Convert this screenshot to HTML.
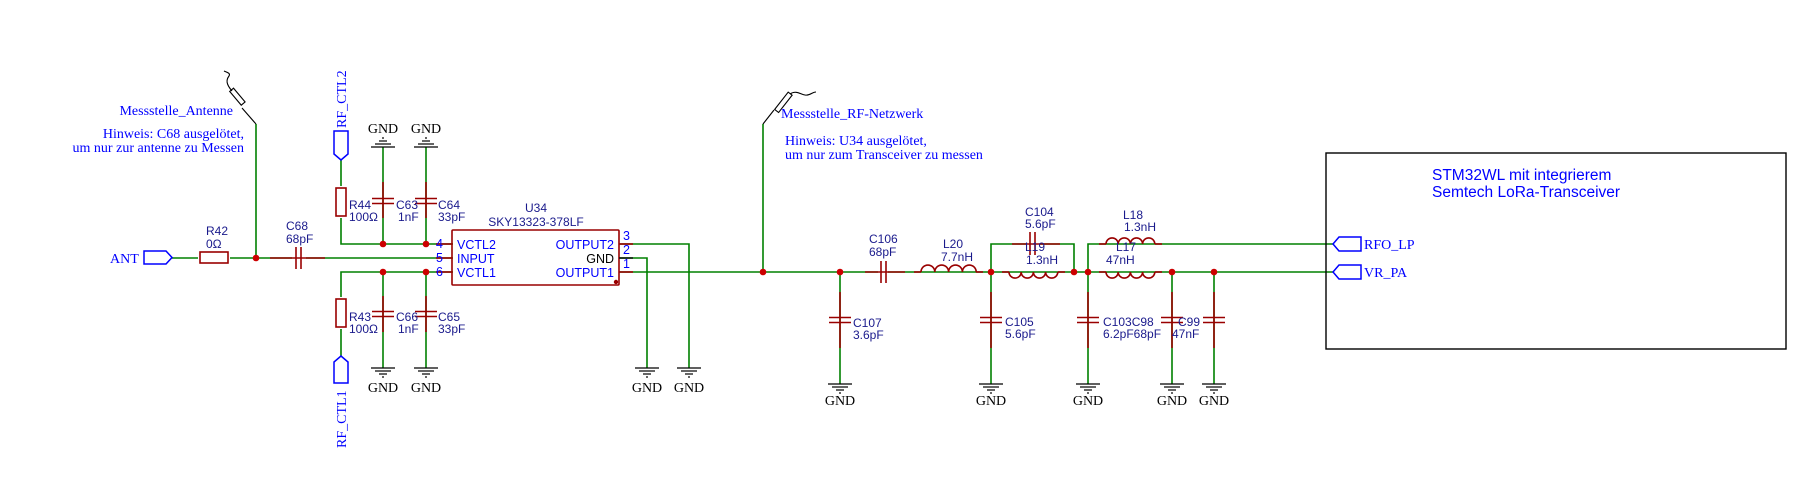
<!DOCTYPE html>
<html><head><meta charset="utf-8"><style>
html,body{margin:0;padding:0;background:#fff;}
svg{display:block;}
.s{font-family:"Liberation Sans",sans-serif;font-size:12px;fill:#1a1a8c;}
.f{font-family:"Liberation Serif",serif;font-size:14px;fill:#0000ff;}
.p{font-family:"Liberation Sans",sans-serif;font-size:12.5px;fill:#0000ff;}
</style></head><body>
<svg width="1812" height="492" viewBox="0 0 1812 492" xmlns="http://www.w3.org/2000/svg">
<defs>
<g id="gd" stroke="#000" stroke-width="1.2"><line x1="-12" y1="0" x2="12" y2="0"/><line x1="-8" y1="3" x2="8" y2="3"/><line x1="-4" y1="6" x2="4" y2="6"/><line x1="-1" y1="9" x2="1" y2="9"/></g>
<g id="gu" stroke="#000" stroke-width="1.2"><line x1="-12" y1="0" x2="12" y2="0"/><line x1="-8" y1="-3" x2="8" y2="-3"/><line x1="-4" y1="-6" x2="4" y2="-6"/><line x1="-1" y1="-9" x2="1" y2="-9"/></g>
<g id="cv" stroke="#990000" stroke-width="1.6"><line x1="-11" y1="-2.5" x2="11" y2="-2.5"/><line x1="-11" y1="2.5" x2="11" y2="2.5"/></g>
</defs>
<g fill="none" stroke="#008000" stroke-width="1.6">
<line x1="172" y1="258" x2="453" y2="258"/>
<line x1="256" y1="258" x2="256" y2="124"/>
<polyline points="341,160 341,244 453,244"/>
<line x1="383" y1="147" x2="383" y2="244"/>
<line x1="426" y1="147" x2="426" y2="244"/>
<polyline points="341,356 341,272 453,272"/>
<line x1="383" y1="272" x2="383" y2="368"/>
<line x1="426" y1="272" x2="426" y2="368"/>
<polyline points="620,244 689,244 689,368"/>
<polyline points="620,258 647,258 647,368"/>
<line x1="620" y1="272" x2="1333" y2="272"/>
<line x1="763" y1="272" x2="763" y2="124"/>
<line x1="840" y1="272" x2="840" y2="384"/>
<polyline points="991,272 991,244 1074,244 1074,272"/>
<polyline points="1088,272 1088,244 1333,244"/>
<line x1="991" y1="272" x2="991" y2="384"/>
<line x1="1088" y1="272" x2="1088" y2="384"/>
<line x1="1172" y1="272" x2="1172" y2="384"/>
<line x1="1214" y1="272" x2="1214" y2="384"/>
</g>
<g fill="#fff" stroke="none">
<rect x="198" y="250" width="32" height="16"/>
<rect x="292" y="246" width="14" height="24"/>
<rect x="335" y="186" width="12" height="32"/><rect x="335" y="297" width="12" height="32"/>
<rect x="878" y="262" width="10" height="20"/>
<rect x="921" y="262" width="55" height="9"/><rect x="1009" y="273" width="49" height="9"/>
<rect x="1106" y="273" width="49" height="9"/><rect x="1106" y="235" width="49" height="8"/>
<rect x="1026" y="234" width="14" height="20"/>
</g>
<g stroke="#990000" stroke-width="1.6" fill="none">
<line x1="270" y1="258" x2="325" y2="258"/>
<line x1="383" y1="182" x2="383" y2="218"/><line x1="426" y1="182" x2="426" y2="218"/>
<line x1="383" y1="296" x2="383" y2="332"/><line x1="426" y1="296" x2="426" y2="332"/>
<line x1="840" y1="292" x2="840" y2="348"/><line x1="991" y1="292" x2="991" y2="348"/>
<line x1="1088" y1="292" x2="1088" y2="348"/><line x1="1172" y1="292" x2="1172" y2="348"/>
<line x1="1214" y1="292" x2="1214" y2="348"/>
<line x1="865" y1="272" x2="905" y2="272"/>
<line x1="1012" y1="244" x2="1060" y2="244"/>
<line x1="914" y1="272" x2="921" y2="272"/><line x1="976" y1="272" x2="983" y2="272"/>
<line x1="1002" y1="272" x2="1009" y2="272"/><line x1="1058" y1="272" x2="1065" y2="272"/>
<line x1="1099" y1="272" x2="1106" y2="272"/><line x1="1155" y1="272" x2="1162" y2="272"/>
<line x1="1099" y1="244" x2="1106" y2="244"/><line x1="1155" y1="244" x2="1162" y2="244"/>
<rect x="200" y="252" width="28" height="11"/>
<rect x="336" y="188" width="10" height="28"/>
<rect x="336" y="299" width="10" height="28"/>
<line x1="296" y1="247" x2="296" y2="269"/><line x1="301" y1="247" x2="301" y2="269"/>
<line x1="881" y1="261" x2="881" y2="283"/><line x1="886" y1="261" x2="886" y2="283"/>
<line x1="1030" y1="232" x2="1030" y2="255"/><line x1="1035" y1="232" x2="1035" y2="255"/>
<path d="M921,272 a6.9,6.9 0 0 1 13.8,0 a6.9,6.9 0 0 1 13.8,0 a6.9,6.9 0 0 1 13.8,0 a6.9,6.9 0 0 1 13.8,0"/>
<path d="M1009,272 a6.1,6.1 0 0 0 12.2,0 a6.1,6.1 0 0 0 12.2,0 a6.1,6.1 0 0 0 12.2,0 a6.1,6.1 0 0 0 12.2,0"/>
<path d="M1106,244 a6.1,6.1 0 0 1 12.2,0 a6.1,6.1 0 0 1 12.2,0 a6.1,6.1 0 0 1 12.2,0 a6.1,6.1 0 0 1 12.2,0"/>
<path d="M1106,272 a6.1,6.1 0 0 0 12.2,0 a6.1,6.1 0 0 0 12.2,0 a6.1,6.1 0 0 0 12.2,0 a6.1,6.1 0 0 0 12.2,0"/>
<rect x="452" y="230" width="167" height="55" rx="1"/>
<line x1="436" y1="244" x2="452" y2="244"/><line x1="436" y1="258" x2="452" y2="258"/><line x1="436" y1="272" x2="452" y2="272"/>
<line x1="619" y1="244" x2="633" y2="244"/><line x1="619" y1="272" x2="633" y2="272"/>
</g>
<line x1="619" y1="258" x2="633" y2="258" stroke="#000" stroke-width="1.4"/>
<circle cx="616" cy="282" r="2.2" fill="#990000"/>
<use href="#cv" x="383" y="201"/><use href="#cv" x="426" y="201"/>
<use href="#cv" x="383" y="314"/><use href="#cv" x="426" y="314"/>
<use href="#cv" x="840" y="320"/><use href="#cv" x="991" y="320"/>
<use href="#cv" x="1088" y="320"/><use href="#cv" x="1172" y="320"/><use href="#cv" x="1214" y="320"/>
<use href="#gu" x="383" y="147"/><use href="#gu" x="426" y="147"/>
<use href="#gd" x="383" y="368"/><use href="#gd" x="426" y="368"/>
<use href="#gd" x="647" y="368"/><use href="#gd" x="689" y="368"/>
<use href="#gd" x="840" y="384"/><use href="#gd" x="991" y="384"/><use href="#gd" x="1088" y="384"/>
<use href="#gd" x="1172" y="384"/><use href="#gd" x="1214" y="384"/>
<g fill="#cc0000">
<circle cx="256" cy="258" r="3.3"/><circle cx="383" cy="244" r="3.3"/><circle cx="426" cy="244" r="3.3"/>
<circle cx="383" cy="272" r="3.3"/><circle cx="426" cy="272" r="3.3"/>
<circle cx="763" cy="272" r="3.3"/><circle cx="840" cy="272" r="3.3"/>
<circle cx="991" cy="272" r="3.3"/><circle cx="1074" cy="272" r="3.3"/><circle cx="1088" cy="272" r="3.3"/>
<circle cx="1172" cy="272" r="3.3"/><circle cx="1214" cy="272" r="3.3"/>
</g>
<g stroke="#000" stroke-width="1.1" fill="none">
<line x1="256" y1="124" x2="242" y2="108"/>
<rect x="228" y="94" width="18" height="5" transform="rotate(50 237 97)"/>
<path d="M232,91 C226,84 226,80 229,76 C231,73 226,72 224,71"/>
<line x1="763" y1="124" x2="774" y2="110"/>
<rect x="772" y="100" width="22" height="5" transform="rotate(-52 783 102)"/>
<path d="M790,94 C796,90 800,94 805,95 C810,96 812,92 816,92"/>
</g>
<g fill="#fff" stroke="#0000ff" stroke-width="1.5">
<path d="M144,251 L166,251 L172,257.5 L166,264 L144,264 Z"/>
<path d="M334,131 L348,131 L348,154 L341,160 L334,154 Z"/>
<path d="M334,383 L348,383 L348,362 L341,356 L334,362 Z"/>
<path d="M1361,237 L1339,237 L1333,244 L1339,251 L1361,251 Z"/>
<path d="M1361,265 L1339,265 L1333,272 L1339,279 L1361,279 Z"/>
</g>
<rect x="1326" y="153" width="460" height="196" fill="none" stroke="#000" stroke-width="1.4"/>
<text class="f" x="110" y="263">ANT</text>
<text class="f" x="1364" y="249">RFO_LP</text>
<text class="f" x="1364" y="277">VR_PA</text>
<text class="f" x="346" y="128" transform="rotate(-90 346 128)">RF_CTL2</text>
<text class="f" x="346" y="448" transform="rotate(-90 346 448)">RF_CTL1</text>
<text class="f" x="233" y="115" text-anchor="end">Messstelle_Antenne</text>
<text class="f" x="244" y="138" text-anchor="end">Hinweis: C68 ausgelötet,</text>
<text class="f" x="244" y="152" text-anchor="end">um nur zur antenne zu Messen</text>
<text class="f" x="781" y="118">Messstelle_RF-Netzwerk</text>
<text class="f" x="785" y="145">Hinweis: U34 ausgelötet,</text>
<text class="f" x="785" y="159">um nur zum Transceiver zu messen</text>
<g class="f" style="fill:#000" text-anchor="middle">
<text x="383" y="133">GND</text><text x="426" y="133">GND</text>
<text x="383" y="392">GND</text><text x="426" y="392">GND</text>
<text x="647" y="392">GND</text><text x="689" y="392">GND</text>
<text x="840" y="405">GND</text><text x="991" y="405">GND</text><text x="1088" y="405">GND</text>
<text x="1172" y="405">GND</text><text x="1214" y="405">GND</text>
</g>
<g class="s">
<text x="206" y="235">R42</text><text x="206" y="248">0Ω</text>
<text x="286" y="230">C68</text><text x="286" y="243">68pF</text>
<text x="349" y="209">R44</text><text x="349" y="221">100Ω</text>
<text x="396" y="209">C63</text><text x="398" y="221">1nF</text>
<text x="438" y="209">C64</text><text x="438" y="221">33pF</text>
<text x="349" y="321">R43</text><text x="349" y="333">100Ω</text>
<text x="396" y="321">C66</text><text x="398" y="333">1nF</text>
<text x="438" y="321">C65</text><text x="438" y="333">33pF</text>
<text x="536" y="212" text-anchor="middle">U34</text>
<text x="536" y="226" text-anchor="middle">SKY13323-378LF</text>
<text x="869" y="243">C106</text><text x="869" y="256">68pF</text>
<text x="853" y="327">C107</text><text x="853" y="339">3.6pF</text>
<text x="943" y="248">L20</text><text x="941" y="261">7.7nH</text>
<text x="1025" y="216">C104</text><text x="1025" y="228">5.6pF</text>
<text x="1025" y="251">L19</text><text x="1026" y="264">1.3nH</text>
<text x="1123" y="219">L18</text><text x="1124" y="231">1.3nH</text>
<text x="1116" y="251">L17</text><text x="1106" y="264">47nH</text>
<text x="1005" y="326">C105</text><text x="1005" y="338">5.6pF</text>
<text x="1103" y="326">C103C98</text><text x="1103" y="338">6.2pF68pF</text>
<text x="1178" y="326">C99</text><text x="1172" y="338">47nF</text>
</g>
<g class="p">
<text x="443" y="248" text-anchor="end">4</text><text x="443" y="262" text-anchor="end">5</text><text x="443" y="276" text-anchor="end">6</text>
<text x="623" y="240">3</text><text x="623" y="254">2</text><text x="623" y="268">1</text>
<text x="457" y="249">VCTL2</text><text x="457" y="263">INPUT</text><text x="457" y="277">VCTL1</text>
<text x="614" y="249" text-anchor="end">OUTPUT2</text>
<text x="614" y="263" text-anchor="end" style="fill:#000">GND</text>
<text x="614" y="277" text-anchor="end">OUTPUT1</text>
</g>
<text x="1432" y="180" style="font-family:'Liberation Sans',sans-serif;font-size:15.5px;fill:#0000ff">STM32WL mit integrierem</text>
<text x="1432" y="197" style="font-family:'Liberation Sans',sans-serif;font-size:15.5px;fill:#0000ff">Semtech LoRa-Transceiver</text>
</svg>
</body></html>
